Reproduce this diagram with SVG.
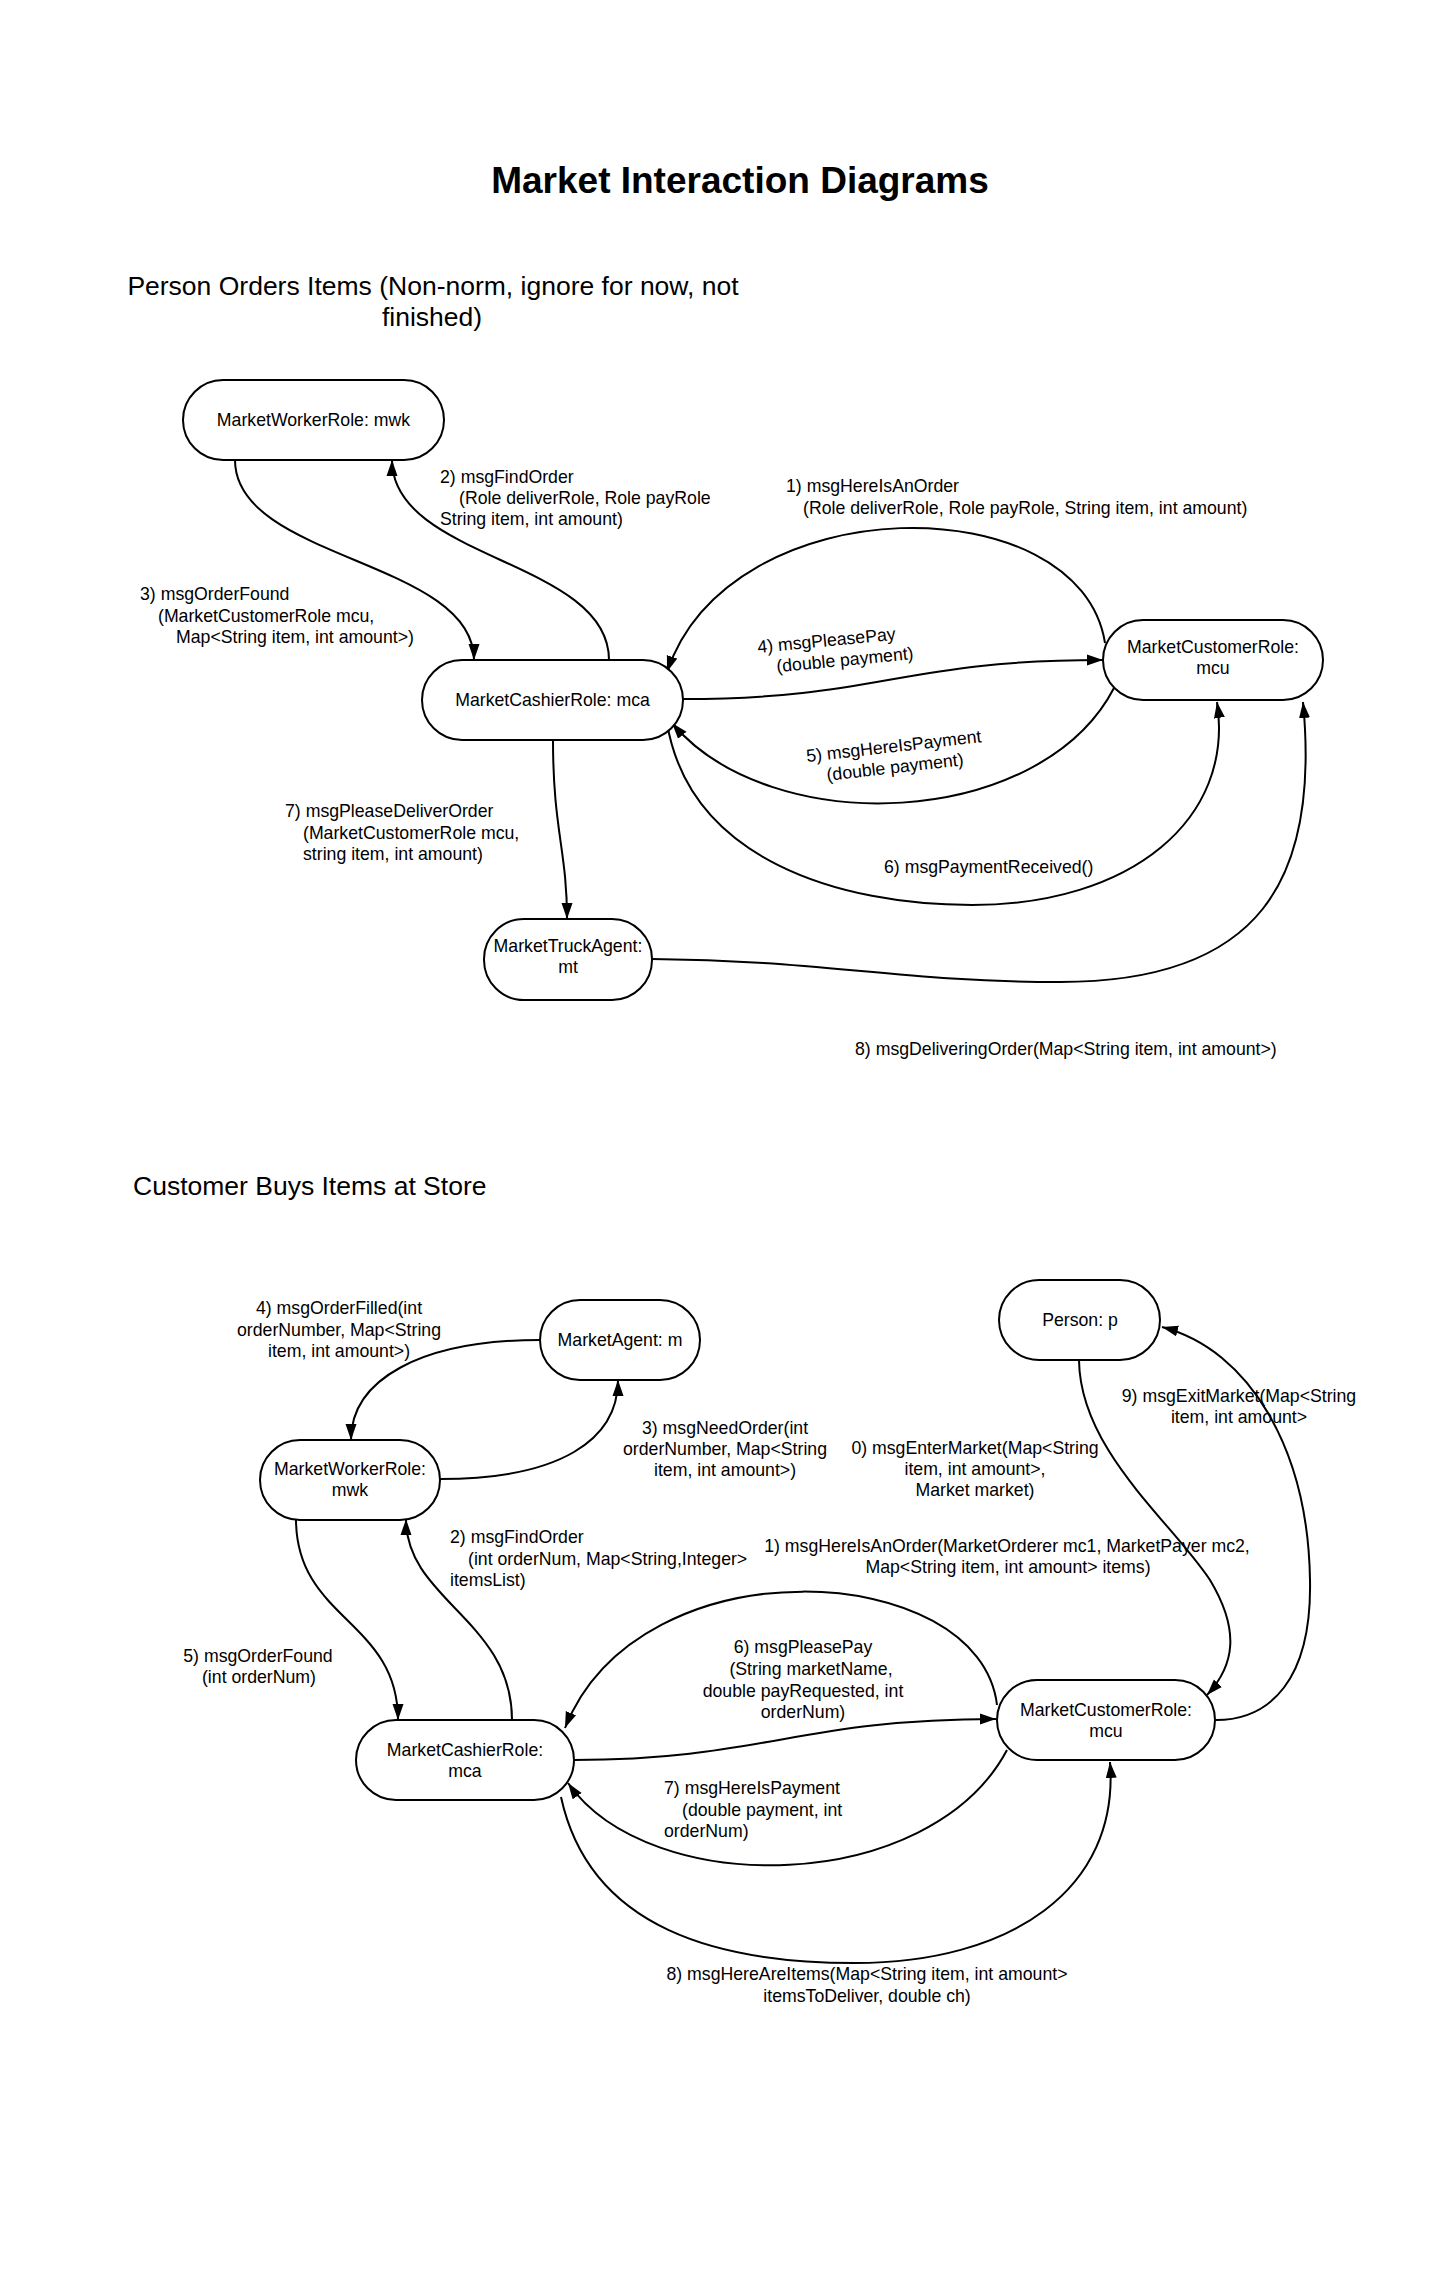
<svg xmlns="http://www.w3.org/2000/svg" width="1443" height="2287" viewBox="0 0 1443 2287">
<style>
.bg{fill:#fff}
.node rect{fill:#fff;stroke:#000;stroke-width:2}
text{font-family:"Liberation Sans",Arial,Helvetica,sans-serif;fill:#000}
.t{font-size:17.7px}
.m{text-anchor:middle}
.title{font-size:37px;font-weight:bold;text-anchor:middle}
.h{font-size:26.5px}
.conn path{fill:none;stroke:#000;stroke-width:2;marker-end:url(#arr)}
</style>
<defs>
<marker id="arr" markerUnits="userSpaceOnUse" markerWidth="17" markerHeight="12" refX="16" refY="6" orient="auto">
<path d="M0,0.5 L16,6 L0,11.5 z" fill="#000"/>
</marker>
</defs>
<rect class="bg" x="0" y="0" width="1443" height="2287"/>

<text class="title" x="740" y="193">Market Interaction Diagrams</text>
<text class="h m" x="433" y="295">Person Orders Items (Non-norm, ignore for now, not</text>
<text class="h m" x="432" y="326">finished)</text>
<text class="h" x="133" y="1195">Customer Buys Items at Store</text>

<g id="connectors" class="conn">
<!-- top diagram -->
<path id="e_t3" d="M235,460 C235,560 474,560 474,660"/>
<path id="e_t2" d="M609,660 C609,560 392,560 392,460"/>
<path id="e_t1" d="M1105,643 C1080,485 730,485 667,672"/>
<path id="e_t4" d="M683,699 C880,699 900,660 1103,660"/>
<path id="e_t5" d="M1114,688 C1040,830 770,840 672,723"/>
<path id="e_t6" d="M667,723 C690,860 840,905 972,905 C1130,905 1235,820 1217,702"/>
<path id="e_t7" d="M553,740 C553,830 567,850 567,919"/>
<path id="e_t8" d="M652,959 C820,960 900,982 1060,982 C1260,982 1320,880 1303,702"/>
<!-- bottom diagram -->
<path id="e_b4" d="M540,1340 C420,1340 351,1380 351,1440"/>
<path id="e_b3" d="M440,1479 C560,1479 618,1440 618,1380"/>
<path id="e_b2" d="M512,1720 C512,1620 406,1600 406,1519"/>
<path id="e_b5" d="M296,1519 C296,1620 398,1620 398,1720"/>
<path id="e_b1" d="M997,1705 C980,1560 640,1540 565,1728"/>
<path id="e_b6" d="M574,1760 C760,1760 800,1719 996,1719"/>
<path id="e_b7" d="M1007,1750 C930,1895 650,1900 568,1783"/>
<path id="e_b8" d="M561,1797 C590,1930 720,1963 855,1963 C1010,1963 1120,1890 1110,1762"/>
<path id="e_b0" d="M1079,1360 C1080,1450 1170,1520 1210,1580 C1240,1630 1235,1665 1207,1695"/>
<path id="e_b9" d="M1216,1720 C1270,1720 1312,1680 1310,1580 C1308,1450 1250,1350 1162,1327"/>
</g>

<g id="labels" class="t">
<text class="t" x="440" y="483">2) msgFindOrder</text>
<text class="t" x="459" y="504">(Role deliverRole, Role payRole</text>
<text class="t" x="440" y="525">String item, int amount)</text>

<text class="t" x="140" y="600">3) msgOrderFound</text>
<text class="t" x="158" y="622">(MarketCustomerRole mcu,</text>
<text class="t" x="176" y="643">Map&lt;String item, int amount&gt;)</text>

<text class="t" x="786" y="492">1) msgHereIsAnOrder</text>
<text class="t" x="803" y="514">(Role deliverRole, Role payRole, String item, int amount)</text>

<g transform="rotate(-5.5 758 653)">
<text class="t" x="758" y="653">4) msgPleasePay</text>
<text class="t" x="775" y="674">(double payment)</text>
</g>
<g transform="rotate(-6.5 807 762)">
<text class="t" x="807" y="762">5) msgHereIsPayment</text>
<text class="t" x="825" y="783">(double payment)</text>
</g>

<text class="t" x="884" y="873">6) msgPaymentReceived()</text>

<text class="t" x="285" y="817">7) msgPleaseDeliverOrder</text>
<text class="t" x="303" y="839">(MarketCustomerRole mcu,</text>
<text class="t" x="303" y="860">string item, int amount)</text>

<text class="t" x="855" y="1055">8) msgDeliveringOrder(Map&lt;String item, int amount&gt;)</text>

<text class="t m" x="339" y="1314">4) msgOrderFilled(int</text>
<text class="t m" x="339" y="1336">orderNumber, Map&lt;String</text>
<text class="t m" x="339" y="1357">item, int amount&gt;)</text>

<text class="t m" x="725" y="1434">3) msgNeedOrder(int</text>
<text class="t m" x="725" y="1455">orderNumber, Map&lt;String</text>
<text class="t m" x="725" y="1476">item, int amount&gt;)</text>

<text class="t" x="450" y="1543">2) msgFindOrder</text>
<text class="t" x="468" y="1565">(int orderNum, Map&lt;String,Integer&gt;</text>
<text class="t" x="450" y="1586">itemsList)</text>

<text class="t m" x="258" y="1662">5) msgOrderFound</text>
<text class="t m" x="259" y="1683">(int orderNum)</text>

<text class="t m" x="1007" y="1552">1) msgHereIsAnOrder(MarketOrderer mc1, MarketPayer mc2,</text>
<text class="t m" x="1008" y="1573">Map&lt;String item, int amount&gt; items)</text>

<text class="t m" x="803" y="1653">6) msgPleasePay</text>
<text class="t m" x="811" y="1675">(String marketName,</text>
<text class="t m" x="803" y="1697">double payRequested, int</text>
<text class="t m" x="803" y="1718">orderNum)</text>

<text class="t" x="664" y="1794">7) msgHereIsPayment</text>
<text class="t" x="682" y="1816">(double payment, int</text>
<text class="t" x="664" y="1837">orderNum)</text>

<text class="t m" x="867" y="1980">8) msgHereAreItems(Map&lt;String item, int amount&gt;</text>
<text class="t m" x="867" y="2002">itemsToDeliver, double ch)</text>

<text class="t m" x="975" y="1454">0) msgEnterMarket(Map&lt;String</text>
<text class="t m" x="975" y="1475">item, int amount&gt;,</text>
<text class="t m" x="975" y="1496">Market market)</text>

<text class="t m" x="1239" y="1402">9) msgExitMarket(Map&lt;String</text>
<text class="t m" x="1239" y="1423">item, int amount&gt;</text>
</g>

<g id="n_mwk1" class="node">
<rect x="183" y="380" width="261" height="80" rx="40" ry="40"/>
<text class="t m" x="313.5" y="426">MarketWorkerRole: mwk</text>
</g>
<g id="n_mca1" class="node">
<rect x="422" y="660" width="261" height="80" rx="40" ry="40"/>
<text class="t m" x="552.5" y="706">MarketCashierRole: mca</text>
</g>
<g id="n_mcu1" class="node">
<rect x="1103" y="620" width="220" height="80" rx="40" ry="40"/>
<text class="t m" x="1213" y="653">MarketCustomerRole:</text>
<text class="t m" x="1213" y="674">mcu</text>
</g>
<g id="n_mt" class="node">
<rect x="484" y="919" width="168" height="81" rx="40" ry="40"/>
<text class="t m" x="568" y="952">MarketTruckAgent:</text>
<text class="t m" x="568" y="973">mt</text>
</g>

<g id="n_m" class="node">
<rect x="540" y="1300" width="160" height="80" rx="40" ry="40"/>
<text class="t m" x="620" y="1346">MarketAgent: m</text>
</g>
<g id="n_mwk2" class="node">
<rect x="260" y="1440" width="180" height="80" rx="40" ry="40"/>
<text class="t m" x="350" y="1475">MarketWorkerRole:</text>
<text class="t m" x="350" y="1496">mwk</text>
</g>
<g id="n_p" class="node">
<rect x="999" y="1280" width="161" height="80" rx="40" ry="40"/>
<text class="t m" x="1080" y="1326">Person: p</text>
</g>
<g id="n_mca2" class="node">
<rect x="356" y="1720" width="218" height="80" rx="40" ry="40"/>
<text class="t m" x="465" y="1756">MarketCashierRole:</text>
<text class="t m" x="465" y="1777">mca</text>
</g>
<g id="n_mcu2" class="node">
<rect x="997" y="1680" width="218" height="80" rx="40" ry="40"/>
<text class="t m" x="1106" y="1716">MarketCustomerRole:</text>
<text class="t m" x="1106" y="1737">mcu</text>
</g>
</svg>
